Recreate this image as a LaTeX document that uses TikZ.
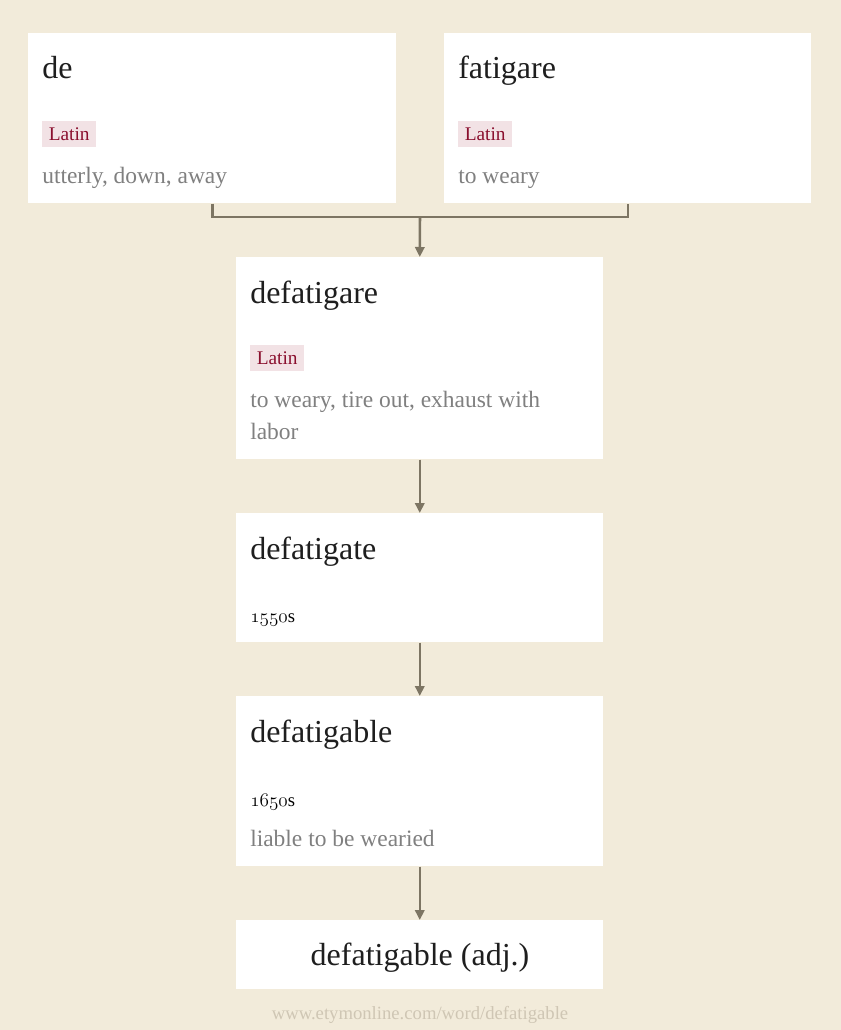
\documentclass[tikz,border=0pt]{standalone}
\usepackage{fontspec}
\setmainfont{Liberation Serif}
\usetikzlibrary{arrows.meta,calc}
\definecolor{bg}{HTML}{F2EBDA}
\definecolor{arr}{HTML}{7D7563}
\definecolor{tagfill}{HTML}{F2E2E5}
\definecolor{tagtext}{HTML}{8A0F2E}
\definecolor{gloss}{HTML}{808080}
\definecolor{ttl}{HTML}{1E1E1E}
\definecolor{foot}{HTML}{CFC6B4}
\tikzset{
  card/.style={fill=white, draw=none, anchor=north west, inner sep=0pt},
  ttext/.style={anchor=base west, inner sep=0pt, text=ttl, font=\fontsize{24pt}{28pt}\selectfont},
  tagbox/.style={anchor=west, fill=tagfill, text=tagtext, inner xsep=4.9pt, inner ysep=0pt,
     minimum height=19.5pt, text height=9.6pt, text depth=0pt, font=\fontsize{14.5pt}{17pt}\selectfont},
  glosstext/.style={anchor=base west, inner sep=0pt, text=gloss, font=\fontsize{17.6pt}{20pt}\selectfont},
  datetext/.style={anchor=base west, inner sep=0pt, text=black, font=\fontsize{14pt}{17pt}\selectfont},
  conn/.style={draw=arr, line width=1.9pt},
  arrow/.style={conn, -{Triangle[length=7.5pt,width=7pt]}},
}
\begin{document}
\begin{tikzpicture}[x=0.75pt,y=-0.75pt]
\useasboundingbox (0,0) rectangle (840,1030);
\fill[bg] (-10,-10) rectangle (850,1040);
% cards
\node[card, minimum width=368*0.75pt, minimum height=170*0.75pt] (de) at (28,33) {};
\node[card, minimum width=367*0.75pt, minimum height=170*0.75pt] (fat) at (444,33) {};
\node[card, minimum width=367*0.75pt, minimum height=202*0.75pt] (defg) at (236,257) {};
\node[card, minimum width=367*0.75pt, minimum height=129*0.75pt] (dft) at (236,513) {};
\node[card, minimum width=367*0.75pt, minimum height=170*0.75pt] (dfb) at (236,696) {};
\node[card, minimum width=367*0.75pt, minimum height=69*0.75pt] (fin) at (236,920) {};
% card de
\node[ttext] (deT) at (42,79) {de};
\node[tagbox] (deL) at (42,134) {Latin};
\node[glosstext] (deG) at (42,184) {utterly, down, away};
% card fatigare
\node[ttext] (fatT) at (458,79) {fatigare};
\node[tagbox] (fatL) at (458,134) {Latin};
\node[glosstext] (fatG) at (458,184) {to weary};
% card defatigare
\node[ttext] (defgT) at (250,303) {defatigare};
\node[tagbox] (defgL) at (250,358) {Latin};
\node[glosstext] (defgG1) at (250,407) {to weary, tire out, exhaust with};
\node[glosstext] (defgG2) at (250,439) {labor};
% card defatigate
\node[ttext] (dftT) at (250,559) {defatigate};
\node[datetext] (dftD) at (250,622) {$\mathnormal{1550}$s};
% card defatigable
\node[ttext] (dfbT) at (250,742) {defatigable};
\node[datetext] (dfbD) at (250,806) {$\mathnormal{1650}$s};
\node[glosstext] (dfbG) at (250,846) {liable to be wearied};
% final
\node[anchor=base, inner sep=0pt, text=ttl, font=\fontsize{24pt}{28pt}\selectfont] (finT) at (420,965) {defatigable (adj.)};
% footer
\node[anchor=base, inner sep=0pt, text=foot, font=\fontsize{14pt}{17pt}\selectfont] (footer) at (420,1019) {www.etymonline.com/word/defatigable};
% connectors
\coordinate (j) at (420,217);
\draw[conn] (de.south) |- (j) -| (fat.south);
\draw[arrow] (j) -- (defg.north);
\draw[arrow] (defg.south) -- (dft.north);
\draw[arrow] (dft.south) -- (dfb.north);
\draw[arrow] (dfb.south) -- (fin.north);
\end{tikzpicture}
\end{document}
